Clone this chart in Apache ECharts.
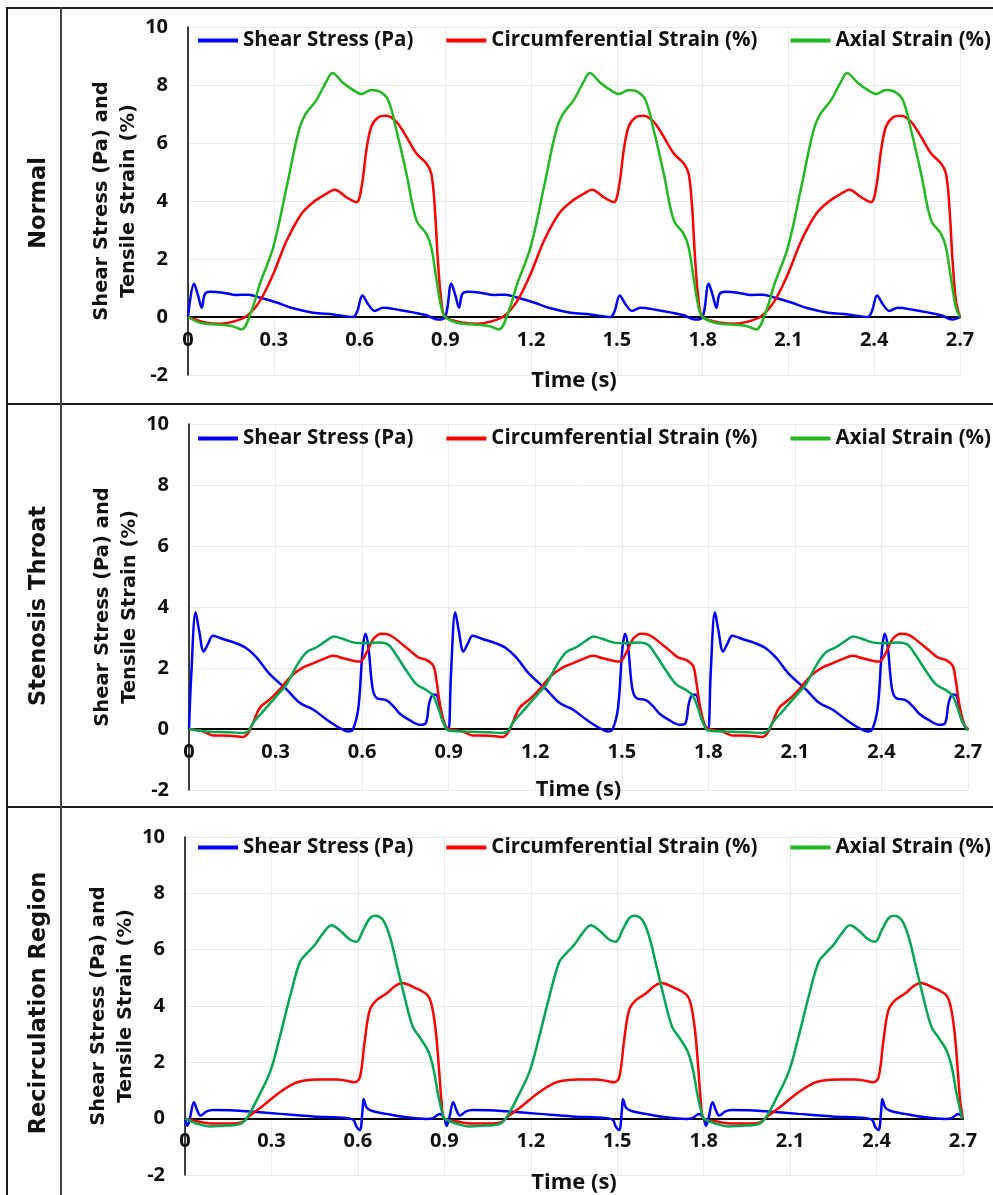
<!DOCTYPE html>
<html><head><meta charset="utf-8">
<script src="https://cdn.jsdelivr.net/npm/echarts@6/dist/echarts.min.js"></script>
<style>html,body{margin:0;padding:0;background:#fff}#c{width:993px;height:1195px}</style>
</head><body><div id="c"></div>
<script>
// ---- data (one 0.9 s cardiac cycle per curve; the chart repeats it 3 times) ----
const period = 0.9;
const cycles = 3;
const seriesNames = ['Shear Stress (Pa)', 'Circumferential Strain (%)', 'Axial Strain (%)'];
const panelLabels = ['Normal', 'Stenosis Throat', 'Recirculation Region'];
const xTickLabels = ['0', '0.3', '0.6', '0.9', '1.2', '1.5', '1.8', '2.1', '2.4', '2.7'];
const yTickLabels = ['-2', '0', '2', '4', '6', '8', '10'];

// Normal
const normalShear = [[0,0],[0.021,1.15],[0.035,0.75],[0.048,0.32],[0.059,0.79],[0.077,0.87],[0.123,0.84],[0.17,0.76],[0.211,0.77],[0.251,0.67],[0.31,0.5],[0.368,0.3],[0.438,0.15],[0.508,0.09],[0.577,0.0],[0.592,0.2],[0.61,0.74],[0.63,0.44],[0.653,0.21],[0.682,0.32],[0.74,0.24],[0.787,0.16],[0.834,0.06],[0.874,-0.09],[0.9,0]];
const normalCirc = [[0,0],[0.065,-0.2],[0.112,-0.23],[0.158,-0.16],[0.205,0.03],[0.251,0.55],[0.298,1.48],[0.345,2.63],[0.397,3.56],[0.438,3.96],[0.484,4.25],[0.513,4.39],[0.554,4.13],[0.589,3.96],[0.607,4.48],[0.624,5.75],[0.641,6.56],[0.665,6.88],[0.693,6.94],[0.729,6.73],[0.764,6.21],[0.799,5.64],[0.834,5.29],[0.851,4.94],[0.863,3.79],[0.874,1.94],[0.886,0.55],[0.9,0]];
const normalAxial = [[0,0],[0.042,-0.2],[0.088,-0.25],[0.152,-0.31],[0.187,-0.43],[0.222,0.21],[0.251,1.13],[0.298,2.4],[0.345,4.48],[0.385,6.33],[0.409,6.96],[0.449,7.48],[0.484,8.12],[0.505,8.41],[0.542,8.08],[0.577,7.83],[0.607,7.69],[0.641,7.83],[0.671,7.77],[0.7,7.48],[0.729,6.44],[0.764,4.94],[0.799,3.33],[0.834,2.86],[0.851,2.4],[0.868,1.36],[0.886,0.32],[0.9,0]];

// Stenosis Throat
const stenosisShear = [[0,0],[0.008,1.8],[0.023,3.83],[0.035,3.23],[0.051,2.54],[0.066,2.79],[0.083,3.06],[0.118,2.95],[0.164,2.81],[0.199,2.65],[0.234,2.35],[0.28,1.8],[0.338,1.3],[0.384,0.86],[0.43,0.64],[0.477,0.31],[0.523,0.03],[0.552,-0.08],[0.569,0.01],[0.587,0.69],[0.602,2.62],[0.612,3.12],[0.622,2.68],[0.636,1.35],[0.65,1.02],[0.685,0.94],[0.708,0.75],[0.731,0.5],[0.766,0.28],[0.8,0.14],[0.821,0.2],[0.833,0.86],[0.847,1.13],[0.861,1.08],[0.876,0.36],[0.893,0.03],[0.9,0]];
const stenosisCirc = [[0,0],[0.049,-0.08],[0.083,-0.21],[0.141,-0.22],[0.187,-0.26],[0.205,-0.13],[0.222,0.2],[0.245,0.69],[0.28,0.97],[0.315,1.3],[0.355,1.74],[0.396,2.02],[0.43,2.15],[0.465,2.29],[0.5,2.4],[0.534,2.32],[0.569,2.24],[0.592,2.21],[0.616,2.51],[0.639,2.95],[0.668,3.12],[0.696,3.08],[0.731,2.84],[0.766,2.57],[0.795,2.35],[0.824,2.26],[0.847,2.07],[0.858,1.57],[0.87,0.8],[0.887,0.14],[0.9,0]];
const stenosisAxial = [[0,0],[0.06,-0.08],[0.141,-0.11],[0.187,-0.13],[0.205,-0.08],[0.222,0.2],[0.257,0.58],[0.303,1.08],[0.338,1.46],[0.373,2.07],[0.407,2.51],[0.442,2.68],[0.477,2.9],[0.502,3.03],[0.534,2.95],[0.569,2.84],[0.616,2.81],[0.662,2.84],[0.691,2.76],[0.72,2.4],[0.754,1.91],[0.789,1.46],[0.824,1.27],[0.847,1.08],[0.864,0.69],[0.882,0.2],[0.9,-0.05]];

// Recirculation Region
const recircShear = [[0,0],[0.008,-0.25],[0.017,0.02],[0.031,0.58],[0.043,0.28],[0.054,0.11],[0.075,0.26],[0.098,0.31],[0.156,0.3],[0.214,0.26],[0.329,0.17],[0.445,0.08],[0.56,0.02],[0.585,-0.05],[0.595,-0.28],[0.607,-0.4],[0.616,0.28],[0.62,0.7],[0.63,0.4],[0.647,0.28],[0.699,0.17],[0.768,0.05],[0.838,-0.01],[0.861,0.02],[0.884,0.17],[0.9,0]];
const recircCirc = [[0,0],[0.04,-0.09],[0.098,-0.17],[0.156,-0.17],[0.196,-0.13],[0.225,0.11],[0.271,0.46],[0.329,0.94],[0.381,1.26],[0.41,1.35],[0.468,1.39],[0.526,1.39],[0.56,1.35],[0.589,1.29],[0.607,1.47],[0.624,2.78],[0.641,3.85],[0.664,4.2],[0.699,4.44],[0.728,4.7],[0.754,4.82],[0.791,4.68],[0.838,4.42],[0.855,4.08],[0.87,3.13],[0.881,1.83],[0.89,0.64],[0.9,0]];
const recircAxial = [[0,0],[0.04,-0.17],[0.087,-0.28],[0.133,-0.25],[0.168,-0.23],[0.196,-0.17],[0.22,0.11],[0.248,0.64],[0.295,1.65],[0.329,2.9],[0.364,4.32],[0.399,5.57],[0.422,5.86],[0.45,6.16],[0.479,6.58],[0.508,6.87],[0.537,6.69],[0.572,6.36],[0.595,6.28],[0.618,6.69],[0.641,7.11],[0.659,7.2],[0.687,7.05],[0.711,6.46],[0.734,5.51],[0.762,4.32],[0.791,3.25],[0.814,2.9],[0.843,2.42],[0.861,1.83],[0.878,0.88],[0.895,0.11],[0.9,0]];

const panelData = [
  [normalShear, normalCirc, normalAxial],
  [stenosisShear, stenosisCirc, stenosisAxial],
  [recircShear, recircCirc, recircAxial]
];

// ---- build ----
function tile(cycle) {
  const out = [];
  for (let k = 0; k < cycles; k++) {
    cycle.forEach((p, i) => {
      if (k > 0 && i === 0) return;
      out.push([+(p[0] + k * period).toFixed(4), p[1]]);
    });
  }
  return out;
}

const layout = [
  {left: 188, width: 772, top: 27, height: 348, legendTop: 30, nameGap: 53, labelY: 203},
  {left: 189, width: 779, top: 424, height: 366, legendTop: 428, nameGap: 50, labelY: 606},
  {left: 185, width: 778, top: 837, height: 338, legendTop: 837, nameGap: 53, labelY: 1003}
];
const lineColors = [
  ['#0000ff', '#ff0000', '#22b822'],
  ['#0000ff', '#ff0000', '#00a651'],
  ['#0000ff', '#ff0000', '#00a651']
];
const legendColors = ['#0000ff', '#ff0000', '#22b822'];
const txtFont = '"Open Sans", Lato, sans-serif';
const wideFont = '"DejaVu Sans", Verdana, sans-serif';

const grids = [], xAxes = [], yAxes = [], series = [], legends = [];
layout.forEach((L, p) => {
  grids.push({left: L.left, top: L.top, width: L.width, height: L.height, containLabel: false, outerBoundsMode: 'none'});
  xAxes.push({
    type: 'value', gridIndex: p, min: 0, max: 2.7, interval: 0.3,
    offset: -L.height * 2 / 12,
    axisLine: {onZero: false, lineStyle: {color: '#000', width: 2}},
    axisTick: {show: false},
    splitLine: {show: true, lineStyle: {color: '#ebebeb', width: 1}},
    axisLabel: {
      formatter: v => xTickLabels[Math.round(v / 0.3)],
      color: '#111', fontFamily: txtFont, fontWeight: 'bold', fontSize: 20, margin: 13
    },
    name: 'Time (s)', nameLocation: 'middle', nameGap: L.nameGap, nameMoveOverlap: false,
    nameTextStyle: {color: '#111', fontFamily: txtFont, fontWeight: 'bold', fontSize: 22}
  });
  yAxes.push({
    type: 'value', gridIndex: p, min: -2, max: 10, interval: 2,
    axisLine: {show: true, onZero: false, lineStyle: {color: '#000', width: 1.5}},
    axisTick: {show: false},
    splitLine: {show: true, lineStyle: {color: '#ebebeb', width: 1}},
    axisLabel: {
      formatter: v => yTickLabels[Math.round((v + 2) / 2)],
      color: '#111', fontFamily: txtFont, fontWeight: 'bold', fontSize: 20, margin: 20
    },
    name: 'Shear Stress (Pa) and\nTensile Strain (%)', nameLocation: 'middle', nameRotate: 90, nameGap: 46,
    nameMoveOverlap: false,
    nameTextStyle: {color: '#111', fontFamily: wideFont, fontWeight: 'bold', fontSize: 19.5, lineHeight: 27}
  });
  panelData[p].forEach((cyc, s) => {
    series.push({
      name: seriesNames[s], type: 'line', xAxisIndex: p, yAxisIndex: p,
      data: tile(cyc), showSymbol: false, symbol: 'none', smooth: 0.35,
      lineStyle: {color: lineColors[p][s], width: 2.5},
      itemStyle: {color: lineColors[p][s]},
      z: 2 + s, animation: false
    });
  });
  legends.push({
    left: 198, top: L.legendTop, width: 795, padding: 0,
    itemGap: 33, itemWidth: 40, itemHeight: 4, icon: 'rect',
    selectedMode: false,
    data: seriesNames.map((n, i) => ({name: n, itemStyle: {color: legendColors[i]}})),
    textStyle: {color: '#111', fontFamily: txtFont, fontWeight: 'bold', fontSize: 20.5}
  });
});

const lineStyle = {stroke: '#1a1a1a', lineWidth: 2};
const graphic = [
  {type: 'line', shape: {x1: 6, y1: 8, x2: 993, y2: 8}, style: lineStyle},
  {type: 'line', shape: {x1: 6, y1: 404, x2: 993, y2: 404}, style: lineStyle},
  {type: 'line', shape: {x1: 6, y1: 807, x2: 993, y2: 807}, style: lineStyle},
  {type: 'line', shape: {x1: 7, y1: 7, x2: 7, y2: 1195}, style: lineStyle},
  {type: 'line', shape: {x1: 61, y1: 7, x2: 61, y2: 1195}, style: {stroke: '#444', lineWidth: 2}}
];
layout.forEach((L, p) => {
  graphic.push({
    type: 'text', x: 39, y: L.labelY, rotation: Math.PI / 2,
    style: {text: panelLabels[p], fill: '#111', font: 'bold 22.5px "DejaVu Sans", Verdana, sans-serif',
            textAlign: 'center', textVerticalAlign: 'middle'}
  });
});

const chart = echarts.init(document.getElementById('c'), null, {renderer: 'canvas'});
chart.setOption({
  animation: false,
  backgroundColor: '#fff',
  grid: grids, xAxis: xAxes, yAxis: yAxes, series: series, legend: legends, graphic: graphic
});
</script></body></html>
